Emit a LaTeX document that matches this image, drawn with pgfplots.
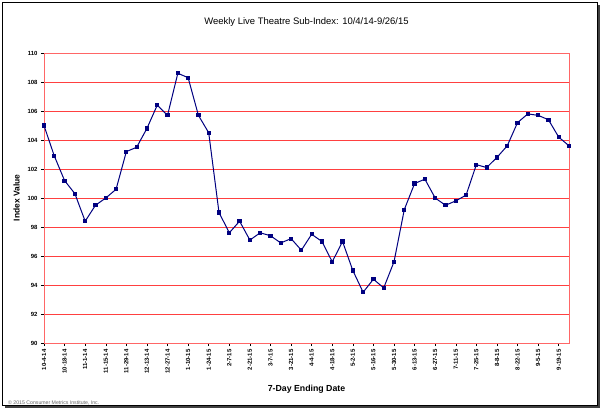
\documentclass[border=0pt]{standalone}
\usepackage{pgfplots}
\pgfplotsset{compat=1.18}
\usepackage{fontspec}
\setmainfont{Liberation Sans}
\definecolor{navyline}{RGB}{0,0,128}
\definecolor{gridred}{RGB}{255,64,64}
\begin{document}
\begin{tikzpicture}[x=1bp,y=1bp]
\useasboundingbox (-44,-68) rectangle (558,343);
% frame with shadow
\fill[black!75] (-39,-65) rectangle (556,338);
\fill[white,draw=black,line width=0.8bp] (-42,-62) rectangle (553,341);
\begin{axis}[
  at={(0,0)}, anchor=south west,
  scale only axis, width=525bp, height=290bp,
  xmin=0, xmax=51, ymin=90, ymax=110,
  ytick={90,92,...,110},
  xtick={0,2,...,50},
  xticklabels={10-4-14,10-18-14,11-1-14,11-15-14,11-29-14,12-13-14,12-27-14,1-10-15,1-24-15,2-7-15,2-21-15,3-7-15,3-21-15,4-4-15,4-18-15,5-2-15,5-16-15,5-30-15,6-13-15,6-27-15,7-11-15,7-25-15,8-8-15,8-22-15,9-5-15,9-19-15},
  x tick label style={rotate=90, anchor=east, font=\fontsize{6}{7}\selectfont\bfseries},
  y tick label style={font=\fontsize{6}{7}\selectfont\bfseries},
  /pgf/number format/assume math mode=true,
  ymajorgrids, grid style={gridred, line width=0.7bp},
  axis line style={red!60, line width=0.8bp},
  tick style={black, line width=0.5bp},
  tick align=outside, major tick length=3bp,
  xtick pos=bottom, ytick pos=left,
  title={Weekly Live Theatre Sub-Index: 10/4/14-9/26/15},
  title style={font=\fontsize{9.5}{11}\selectfont, yshift=17bp},
  xlabel={7-Day Ending Date},
  xlabel style={font=\fontsize{8.8}{10}\selectfont\bfseries, yshift=-5bp},
  ylabel={Index Value},
  ylabel style={font=\fontsize{8.5}{10}\selectfont\bfseries, yshift=1bp},
  clip=false,
]
\addplot[navyline, line width=1bp, mark=square*, mark size=1.6bp, mark options={fill=navyline}] table {
x y
0 105.0
1 102.9
2 101.2
3 100.3
4 98.4
5 99.5
6 100.0
7 100.6
8 103.2
9 103.5
10 104.8
11 106.4
12 105.7
13 108.6
14 108.3
15 105.7
16 104.5
17 99.0
18 97.6
19 98.4
20 97.1
21 97.6
22 97.4
23 96.9
24 97.2
25 96.4
26 97.5
27 97.0
28 95.6
29 97.0
30 95.0
31 93.5
32 94.4
33 93.8
34 95.6
35 99.2
36 101.0
37 101.3
38 100.0
39 99.5
40 99.8
41 100.2
42 102.3
43 102.1
44 102.8
45 103.6
46 105.2
47 105.8
48 105.7
49 105.4
50 104.2
51 103.6
};
\end{axis}
\node[anchor=west, font=\fontsize{5.2}{6}\selectfont, text=black!60, inner sep=0] at (-36,-60) {\textcopyright{} 2015 Consumer Metrics Institute, Inc.};
\end{tikzpicture}
\end{document}
